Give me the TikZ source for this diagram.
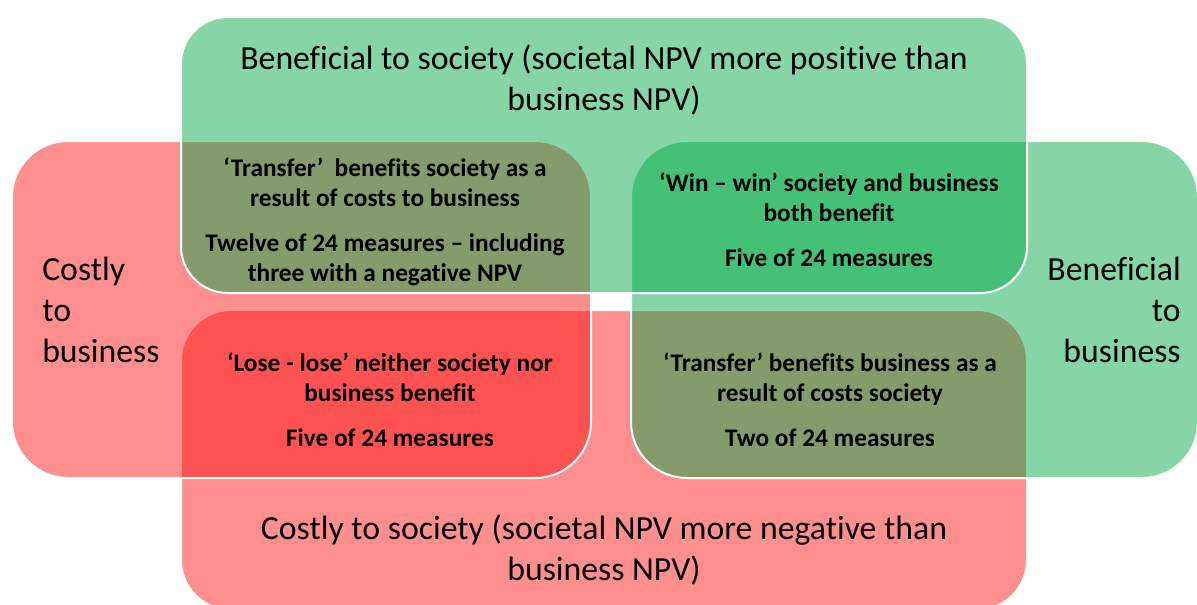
\documentclass[tikz,border=0pt]{standalone}
\usepackage{fontspec}
\setmainfont{Carlito}[Ligatures=NoCommon]

\definecolor{costred}{RGB}{255,9,9}
\definecolor{gaingreen}{RGB}{0,168,69}

\begin{document}
\begin{tikzpicture}
		[x=0.75pt, y=-0.75pt,
		region/.style={draw=white, line width=1.5pt},
		costly/.style={region, fill=costred, fill opacity=0.455},
		gain/.style={region, fill=gaingreen, fill opacity=0.48},
		axislabel/.style={inner sep=0pt, font=\fontsize{25.3}{31}\selectfont},
		quadrant/.style={inner sep=0pt, align=center, font=\bfseries\fontsize{19}{22.5}\selectfont}]
		\path[use as bounding box, clip] (0,0) rectangle (1197,604);

		\draw[costly, rounded corners=37.5pt] (181,310) rectangle (1027,610);
		\draw[gain, rounded corners=42pt] (631,141) rectangle (1198,478);
		\draw[costly, rounded corners=42pt] (12,141) rectangle (591,478);
		\draw[gain, rounded corners=35pt] (181,17) rectangle (1027,293);

		\node[axislabel, align=center] (society+) at (604,80) {Beneficial to society (societal NPV more positive than\\business NPV)};
		\node[axislabel, align=center] (society-) at (604,550) {Costly to society (societal NPV more negative than\\business NPV)};
		\node[axislabel, align=left, anchor=west] (business-) at (42,310) {Costly\\to\\business};
		\node[axislabel, align=right, anchor=east] (business+) at (1181,310) {Beneficial\\to\\business};

		\node[quadrant] (transfer1) at (385,222) {‘Transfer’~ benefits society as a\\result of costs to business\\[11.25pt]Twelve of 24 measures – including\\three with a negative NPV};
		\node[quadrant] (winwin) at (829,220) {‘Win – win’ society and business\\both benefit\\[11.25pt]Five of 24 measures};
		\node[quadrant] (loselose) at (390,400) {‘Lose - lose’ neither society nor\\business benefit\\[11.25pt]Five of 24 measures};
		\node[quadrant] (transfer2) at (830,400) {‘Transfer’ benefits business as a\\result of costs society\\[11.25pt]Two of 24 measures};
	\end{tikzpicture}
\end{document}
